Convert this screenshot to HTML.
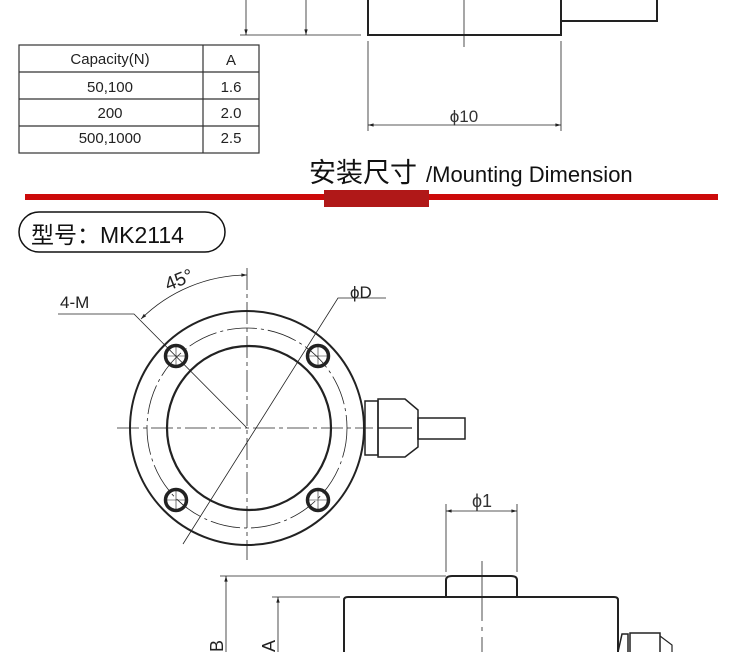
<!DOCTYPE html>
<html><head><meta charset="utf-8"><style>
html,body{margin:0;padding:0;background:#fff;width:750px;height:652px;overflow:hidden}
svg{display:block}
text{font-family:"Liberation Sans","Noto Sans CJK SC",sans-serif}
</style></head><body>
<svg width="750" height="652" viewBox="0 0 750 652" xmlns="http://www.w3.org/2000/svg">
<defs>
<marker id="ar" viewBox="0 0 10 10" refX="10" refY="5" markerWidth="10" markerHeight="7" orient="auto-start-reverse"><path d="M0,2 L10,5 L0,8z" fill="#222"/></marker>
</defs>
<g stroke="#222" fill="none">
<path d="M368,0 V35 H561 V0" stroke-width="2"/>
<path d="M561,21 H657 V0" stroke-width="2"/>
<line x1="464" y1="0" x2="464" y2="47" stroke-width="0.8"/>
<line x1="240" y1="35" x2="361" y2="35" stroke-width="0.8"/>
<line x1="246" y1="0" x2="246" y2="35" stroke-width="0.8" marker-end="url(#ar)"/>
<line x1="306" y1="0" x2="306" y2="35" stroke-width="0.8" marker-end="url(#ar)"/>
<line x1="368" y1="41" x2="368" y2="131" stroke-width="0.8"/>
<line x1="561" y1="41" x2="561" y2="131" stroke-width="0.8"/>
<line x1="368" y1="125" x2="561" y2="125" stroke-width="0.8" marker-start="url(#ar)" marker-end="url(#ar)"/>
</g>
<text x="464" y="122" font-size="17" fill="#333" text-anchor="middle">ϕ10</text>
<g stroke="#333" fill="none" stroke-width="1.2">
<rect x="19" y="45" width="240" height="108"/>
<line x1="19" y1="72" x2="259" y2="72"/><line x1="19" y1="99" x2="259" y2="99"/><line x1="19" y1="126" x2="259" y2="126"/>
<line x1="203" y1="45" x2="203" y2="153"/>
</g>
<g font-size="15" fill="#222" text-anchor="middle">
<text x="110" y="64">Capacity(N)</text><text x="231" y="65">A</text>
<text x="110" y="92">50,100</text><text x="231" y="92">1.6</text>
<text x="110" y="118">200</text><text x="231" y="118">2.0</text>
<text x="110" y="143">500,1000</text><text x="231" y="143">2.5</text>
</g>
<text x="309" y="182" font-size="27" fill="#111">安装尺寸</text>
<text x="426" y="182" font-size="22" fill="#111">/Mounting Dimension</text>
<rect x="25" y="194" width="693" height="6" fill="#cc0a0a"/>
<rect x="324" y="190" width="105" height="17" fill="#b01818"/>
<rect x="19" y="212" width="206" height="40" rx="20" fill="none" stroke="#111" stroke-width="1.5"/>
<text x="31" y="243" font-size="23" fill="#111">型号：MK2114</text>
<g stroke="#222" fill="none">
<circle cx="247" cy="428" r="117" stroke-width="2"/>
<circle cx="247" cy="428" r="100" stroke-width="0.8" stroke-dasharray="30 4 3 4"/>
<circle cx="249" cy="428" r="82" stroke-width="2.2"/>
<line x1="247" y1="268" x2="247" y2="560" stroke-width="0.8" stroke-dasharray="22 4 4 4"/>
<line x1="117" y1="428" x2="373" y2="428" stroke-width="0.8" stroke-dasharray="22 4 4 4"/>
<g stroke-width="3.5"><circle cx="176" cy="356" r="10.5"/><circle cx="318" cy="356" r="10.5"/><circle cx="176" cy="500" r="10.5"/><circle cx="318" cy="500" r="10.5"/></g>
<g stroke-width="0.6">
<path d="M167,356h18M176,347v18M167,500h18M176,491v18M309,356h18M318,347v18M309,500h18M318,491v18"/>
</g>
<path d="M141,319 A152,152 0 0 1 247,275" stroke-width="0.8" marker-start="url(#ar)" marker-end="url(#ar)"/>
<path d="M58,314 H134 L247,428" stroke-width="0.8"/>
<path d="M386,298 H338 L183,544" stroke-width="0.8"/>
<rect x="365" y="401" width="13" height="54" stroke-width="1.5"/>
<path d="M378,399 H405 L418,410 V447 L405,457 H378Z" stroke-width="1.5"/>
<line x1="378" y1="428" x2="412" y2="428" stroke-width="1.2"/>
<rect x="418" y="418" width="47" height="21" stroke-width="1.5"/>
</g>
<text x="60" y="308" font-size="17" fill="#222">4-M</text>
<text x="350" y="298" font-size="17" fill="#222">ϕD</text>
<text x="0" y="0" font-size="19" fill="#222" transform="translate(168,291) rotate(-22)">45°</text>
<g stroke="#222" fill="none">
<path d="M446,597 V580 Q446,576 452,576 H511 Q517,576 517,580 V597" stroke-width="2"/>
<path d="M344,652 V600 Q344,597 348,597 H614 Q618,597 618,600 V652" stroke-width="2"/>
<line x1="482" y1="561" x2="482" y2="652" stroke-width="0.8" stroke-dasharray="60 6 4 6"/>
<line x1="220" y1="576" x2="446" y2="576" stroke-width="0.8"/>
<line x1="272" y1="597" x2="340" y2="597" stroke-width="0.8"/>
<line x1="226" y1="652" x2="226" y2="576" stroke-width="0.8" marker-end="url(#ar)"/>
<line x1="278" y1="652" x2="278" y2="597" stroke-width="0.8" marker-end="url(#ar)"/>
<line x1="446" y1="504" x2="446" y2="572" stroke-width="0.8"/>
<line x1="517" y1="504" x2="517" y2="572" stroke-width="0.8"/>
<line x1="446" y1="511" x2="517" y2="511" stroke-width="0.8" marker-start="url(#ar)" marker-end="url(#ar)"/>
<path d="M618,652 L622,634 H628 V652" stroke-width="1.5"/>
<rect x="630" y="633" width="30" height="20" stroke-width="1.5"/>
<path d="M660,636 L672,645 V652" stroke-width="1.2"/>
</g>
<text x="482" y="507" font-size="18" fill="#333" text-anchor="middle">ϕ1</text>
<text x="0" y="0" font-size="18" fill="#222" transform="translate(223,652) rotate(-90)">B</text>
<text x="0" y="0" font-size="18" fill="#222" transform="translate(275,652) rotate(-90)">A</text>
</svg>
</body></html>
